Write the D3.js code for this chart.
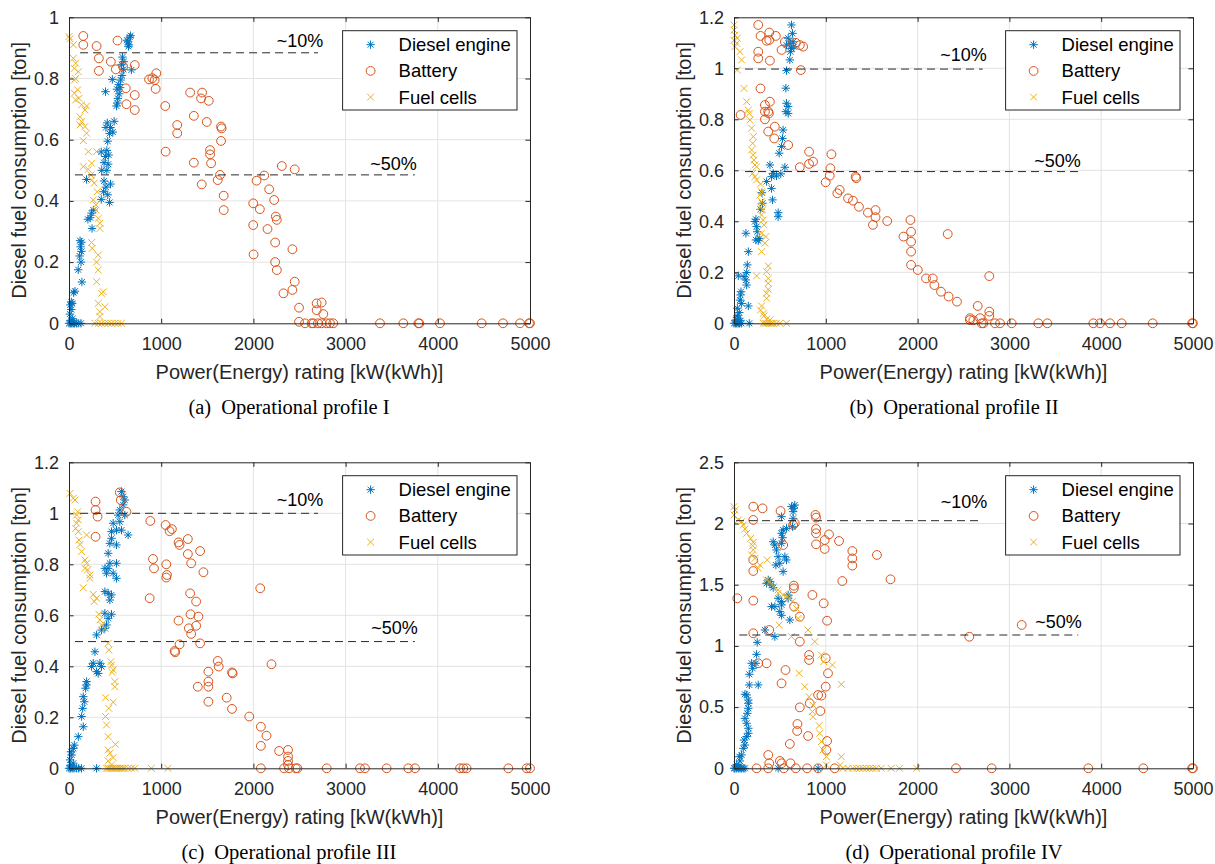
<!DOCTYPE html>
<html><head><meta charset="utf-8">
<script src="https://cdn.jsdelivr.net/npm/d3@7"></script>
<style>body{margin:0;background:#fff}svg{display:block}</style>
</head><body>
<script>
// ---------- DATA ----------
const xTicks = [0,1000,2000,3000,4000,5000];
const yTicksA = [0,0.2,0.4,0.6,0.8,1];
const yTicksB = [0,0.2,0.4,0.6,0.8,1,1.2];
const yTicksC = [0,0.2,0.4,0.6,0.8,1,1.2];
const yTicksD = [0,0.5,1,1.5,2,2.5];
const seriesNames = ["Diesel engine","Battery","Fuel cells"];
const xLabel = "Power(Energy) rating [kW(kWh)]";
const yLabel = "Diesel fuel consumption [ton]";
const captions = [["(a)","Operational profile I"],["(b)","Operational profile II"],["(c)","Operational profile III"],["(d)","Operational profile IV"]];

const dieselA = [[0,0],[15,0],[30,0],[45,0],[60,0],[80,0],[100,0],[130,0],[20,0.01],[40,0.015],[10,0.03],[25,0.045],[15,0.06],[35,0.065],[25,0.07],[50,0.1],[65,0.105],[140,0.135],[100,0.175],[130,0.2],[115,0.22],[135,0.235],[125,0.25],[135,0.265],[120,0.27],
[250,0.31],[205,0.34],[230,0.345],[245,0.36],[265,0.37],[190,0.47],
[350,0.405],[440,0.395],[420,0.42],[375,0.43],[400,0.445],[450,0.455],[380,0.465],[355,0.5],[410,0.5],[425,0.52],[380,0.525],[395,0.545],[350,0.56],[430,0.55],[410,0.565],
[420,0.595],[440,0.62],[475,0.625],[400,0.64],[450,0.64],[415,0.655],[490,0.66],[396,0.757],[470,0.797],
[515,0.71],[525,0.72],[530,0.735],[545,0.75],[520,0.765],[555,0.77],[540,0.78],[560,0.795],[575,0.81],[590,0.83],[570,0.845],[595,0.855],[580,0.87],[677,0.828],[640,0.92],[660,0.935],[650,0.91],[630,0.925],[668,0.94],[645,0.905]];
const batteryA = [[155,0.939],[155,0.91],[299,0.906],[526,0.924],[324,0.866],[454,0.855],[324,0.825],[508,0.83],[587,0.839],[713,0.844],[616,0.768],[713,0.746],[623,0.716],[713,0.697],
[868,0.797],[904,0.801],[947,0.817],[929,0.795],[940,0.766],[1044,0.71],[1048,0.561],[1174,0.648],[1174,0.621],
[1314,0.754],[1444,0.754],[1433,0.735],[1516,0.727],[1354,0.678],[1494,0.658],[1649,0.643],[1656,0.637],[1649,0.596],[1354,0.525],[1530,0.566],[1530,0.552],[1541,0.523],[1440,0.454],[1638,0.485],[1613,0.468],[1678,0.417],[1678,0.37],
[1998,0.392],[2034,0.466],[2117,0.483],[2070,0.373],[1998,0.321],[2171,0.438],[2225,0.403],[2153,0.308],[2243,0.349],[2254,0.338],[2002,0.225],[2236,0.264],[2236,0.2],[2254,0.174],[2423,0.242],[2448,0.136],[2423,0.109],[2326,0.098],[2495,0.051],[2495,0.005],[2308,0.514],[2448,0.503],
[2686,0.065],[2740,0.068],[2686,0.043],[2758,0.03],[2560,0],[2632,0],[2650,0],[2700,0],[2740,0],[2794,0],[2830,0],[2866,0],
[3373,0],[3626,0],[3789,0],[3800,0],[4024,0],[4476,0],[4707,0],[4892,0],[4990,0],[5000,0]];
const fuelA = [[0,0.937],[10,0.93],[47,0.91],[47,0.866],[72,0.85],[58,0.833],[101,0.822],[72,0.8],[58,0.795],[94,0.763],[58,0.752],[108,0.735],[72,0.73],[137,0.714],[191,0.71],[173,0.697],[119,0.675],[137,0.659],[119,0.648],[173,0.643],[191,0.621],[155,0.597],
[209,0.561],[299,0.561],[245,0.523],[155,0.512],[209,0.503],[238,0.485],[245,0.468],[274,0.458],[306,0.43],[263,0.403],[292,0.387],[292,0.37],[317,0.343],[335,0.327],[335,0.31],
[245,0.264],[252,0.245],[317,0.223],[299,0.2],[317,0.174],[299,0.136],[371,0.103],[353,0.098],[317,0.065],[389,0.054],[335,0.038],[335,0.022],
[281,0],[317,0],[353,0],[389,0],[425,0],[461,0],[497,0],[533,0],[569,0]];

const dieselB = [[0,0],[15,0],[30,0],[45,0],[60,0],[80,0],[166,0],[20,0.013],[47,0.02],[72,0.01],[36,0.029],[58,0.042],[36,0.059],[83,0.078],[156,0.068],[65,0.091],[72,0.111],[76,0.124],[138,0.15],[130,0.17],[109,0.183],[47,0.186],[138,0.199],[145,0.229],[156,0.281],[130,0.353],
[239,0.327],[253,0.359],[246,0.379],[228,0.399],[239,0.408],[275,0.333],[264,0.324],
[289,0.447],[311,0.471],[304,0.512],[355,0.556],[409,0.529],[420,0.484],[481,0.434],[481,0.418],
[391,0.621],[427,0.588],[409,0.575],[463,0.578],[510,0.586],[554,0.612],
[492,0.667],[517,0.693],[528,0.725],[535,0.758],[565,0.83],[590,0.823],[572,0.863],[590,0.85],[565,0.922],[572,0.991],
[608,1.033],[615,1.065],[608,1.098],[590,1.118],[637,1.137],[626,1.17],[644,1.104],[652,1.085],[572,1.091],[626,1.078]];
const batteryB = [[264,1.17],[289,1.127],[384,1.14],[384,1.111],[355,1.108],[456,1.127],[554,1.104],[518,1.072],[673,1.1],[717,1.091],[753,1.085],[264,1.065],[264,1.039],[391,1.03],[728,0.993],
[289,0.921],[337,0.856],[391,0.869],[337,0.83],[373,0.83],[380,0.823],[337,0.8],[445,0.771],[373,0.752],[438,0.725],[72,0.817],[590,0.699],
[717,0.612],[818,0.673],[818,0.625],[861,0.634],[1061,0.663],[1050,0.608],[1043,0.579],[999,0.553],[1151,0.523],[1126,0.51],[1325,0.575],[1332,0.569],[1242,0.49],[1296,0.481],[1361,0.457],[1459,0.434],[1542,0.444],[1542,0.416],[1513,0.386],[1669,0.401],
[1922,0.405],[1929,0.359],[1929,0.32],[1929,0.281],[1846,0.34],[1929,0.229],[2002,0.209],[2092,0.176],[2165,0.176],[2183,0.15],[2255,0.124],[2338,0.105],[2429,0.085],[2328,0.35],
[2570,0.013],[2781,0.185],[2655,0.068],[2781,0.046],[2781,0.029],[2680,0.02],[2607,0.012],[2571,0.02],
[2698,0],[2716,0],[2843,0],[2898,0],[3025,0],[3315,0],[3413,0],[3914,0],[3987,0],[4096,0],[4223,0],[4561,0],[4990,0],[5000,0]];
const fuelB = [[0,1.17],[0,1.15],[11,1.13],[0,1.11],[36,1.118],[29,1.098],[11,1.085],[65,1.065],[83,1.033],[36,0.993],
[109,0.921],[138,0.869],[156,0.836],[166,0.823],[174,0.797],[192,0.765],[210,0.732],[203,0.706],[192,0.68],[210,0.66],[217,0.64],[228,0.621],[246,0.614],[203,0.588],[228,0.575],[246,0.562],[289,0.546],[300,0.516],[282,0.503],[300,0.477],[289,0.457],[311,0.444],[300,0.425],[318,0.405],[326,0.386],[300,0.353],[347,0.34],[337,0.314],[300,0.281],[246,0.186],[373,0.225],[355,0.203],[373,0.176],[373,0.157],[373,0.133],[355,0.118],[355,0.098],[300,0.068],[289,0.052],[318,0.039],[326,0.029],[355,0.016],[391,0.013],
[318,0],[337,0],[355,0],[373,0],[391,0],[409,0],[427,0],[463,0],[500,0],[572,0]];

const dieselC = [[0,0],[15,0],[35,0],[55,0],[80,0],[105,0],[135,0],[299,0],[20,0.013],[47,0.02],[11,0.033],[29,0.052],[22,0.065],[47,0.078],[58,0.091],[101,0.124],[155,0.163],[137,0.203],[148,0.235],[166,0.261],[155,0.281],[180,0.314],[191,0.327],[191,0.34],
[245,0.399],[263,0.412],[299,0.379],[317,0.372],[281,0.457],[335,0.412],[353,0.399],
[299,0.523],[353,0.542],[389,0.549],[407,0.562],[425,0.588],[461,0.604],[389,0.608],
[443,0.66],[461,0.68],[425,0.686],[389,0.693],
[407,0.765],[389,0.784],[425,0.784],[479,0.765],[515,0.745],[443,0.804],[515,0.804],
[425,0.843],[443,0.882],[515,0.876],[461,0.902],[461,0.928],[515,0.934],[479,0.961],[551,0.967],[533,0.993],[605,0.993],[641,0.915],[569,0.934],
[551,1.013],[587,1.033],[587,1.065],[569,1.085],[605,1.052]];
const batteryC = [[288,1.046],[288,1.013],[310,0.987],[288,0.908],[551,1.082],[562,1.052],[623,1.006],
[882,0.97],[911,0.821],[922,0.784],[875,0.667],[1048,0.954],[1091,0.93],[1116,0.938],[1055,0.8],[1062,0.758],[1055,0.748],[1188,0.886],[1199,0.876],[1289,0.899],[1289,0.84],[1325,0.804],[1422,0.852],[1458,0.769],
[1314,0.686],[1379,0.654],[1318,0.604],[1404,0.595],[1188,0.579],[1300,0.549],[1379,0.559],[1325,0.527],[1422,0.49],[1199,0.486],[1145,0.46],[1152,0.455],
[1613,0.421],[1624,0.399],[1512,0.379],[1512,0.34],[1512,0.32],[1397,0.32],[1512,0.261],[1768,0.376],[1775,0.372],[1710,0.277],[1768,0.233],
[2074,0.706],[2196,0.408],[1955,0.203],[2081,0.163],[2142,0.128],[2081,0.088],[2279,0.068],[2376,0.072],[2376,0.046],[2376,0.029],[2376,0.013],[2081,0],[2333,0],[2387,0],[2459,0],[2477,0],
[2795,0],[3156,0],[3210,0],[3445,0],[3680,0],[3753,0],[4241,0],[4277,0],[4313,0],[4765,0],[4964,0],[5000,0]];
const fuelC = [[11,1.078],[47,1.059],[65,1.052],[94,1.006],[83,0.993],[101,0.974],[83,0.961],[72,0.941],[101,0.928],[191,0.915],[108,0.895],[119,0.878],[137,0.85],[173,0.817],[191,0.804],[173,0.784],[202,0.778],[227,0.758],[227,0.745],[155,0.708],
[263,0.682],[299,0.667],[274,0.654],[324,0.604],[335,0.582],[353,0.562],[392,0.549],[425,0.49],[432,0.464],[454,0.418],[461,0.405],[479,0.386],[468,0.376],[497,0.34],[497,0.32],[396,0.277],[479,0.259],[432,0.235],[396,0.203],[407,0.17],[425,0.124],[504,0.094],[425,0.072],[443,0.059],[479,0.042],[425,0.029],[461,0.013],
[407,0],[425,0],[443,0],[461,0],[479,0],[497,0],[515,0],[533,0],[551,0],[569,0],[587,0],[605,0],[641,0],[677,0],[713,0],[893,0],[1073,0]];

const dieselD = [[0,0],[11,0],[29,0],[47,0],[65,0],[83,0],[101,0],[119,0],[481,0],[916,0],[29,0.03],[47,0.015],[65,0.06],[58,0.095],[83,0.109],[101,0.163],[119,0.19],[109,0.231],[138,0.259],[156,0.286],[156,0.327],[138,0.368],[119,0.408],[145,0.449],[156,0.49],[156,0.531],[156,0.558],[138,0.599],[119,0.605],[167,0.681],[167,0.768],[203,0.817],[239,0.858],[246,0.931],[192,0.858],[253,1.029],[264,0.681],
[337,1.13],[445,1.076],
[373,1.539],[355,1.511],[409,1.498],[427,1.476],[391,1.525],
[481,1.389],[518,1.362],[445,1.321],[518,1.335],[499,1.28],[409,1.321],[590,1.416],[608,1.212],[590,1.389],[518,1.25],
[427,1.851],[445,1.824],[463,1.784],[481,1.729],[499,1.675],[456,1.661],[535,1.607],[554,1.729],[572,1.702],[518,1.838],[518,1.92],[535,1.947],[529,1.884],
[518,2.056],[572,1.96],[637,1.974],[644,2.042],[652,2.124],[626,2.138],[644,2.097],[662,2.151]];
const batteryD = [[210,2.138],[311,2.124],[210,2.029],[507,2.102],[662,2.002],[644,1.988],[536,1.824],[210,1.702],[210,1.612],[36,1.389],[210,1.37],
[887,2.07],[894,2.048],[894,1.955],[894,1.92],[894,1.83],[988,1.865],[1035,1.911],[988,1.792],[1144,1.857],[1289,1.775],[1289,1.715],[1289,1.656],[1557,1.743],[1180,1.53],[1705,1.544],
[652,1.492],[652,1.47],[655,1.321],[717,1.239],[854,1.416],[977,1.348],[1014,1.206],
[210,1.103],[384,1.13],[717,1.035],[818,0.926],[818,0.885],[264,0.858],[355,0.858],[561,0.803],[518,0.694],[999,0.899],[1024,0.776],[999,0.667],[916,0.599],[952,0.594],[941,0.468],[717,0.498],[825,0.531],[691,0.362],[688,0.305],[807,0.264],[608,0.199],
[373,0.109],[384,0.041],[500,0.06],[518,0.041],[615,0.041],[1014,0.223],[1006,0.15],
[246,0],[373,0],[543,0],[673,0],[796,0],[916,0],[1097,0],[2418,0],[2807,0],[3860,0],[4459,0],[4990,0],[5000,0],
[2563,1.075],[3134,1.171]];
const fuelD = [[0,2.138],[11,2.11],[0,2.07],[47,2.029],[83,2.015],[101,1.988],[119,1.955],[138,1.92],[181,1.879],[210,1.846],[203,1.819],[210,1.784],[192,1.743],[228,1.715],[282,1.661],[362,1.702],[264,1.634],
[355,1.539],[391,1.525],[427,1.484],[481,1.457],[481,1.43],[536,1.416],[572,1.402],[608,1.389],[637,1.362],[680,1.307],[699,1.225],[492,1.171],[626,1.076],[807,1.13],[880,1.035],
[710,0.776],[771,0.667],[818,0.585],[861,0.517],[854,0.463],[861,0.422],[927,0.349],[934,0.286],[952,0.218],[970,0.15],[1006,0.095],[1006,0.027],[952,0.926],[977,0.871],[1072,0.844],[1169,0.686],[1169,0.095],[1158,0.027],
[1187,0],[1242,0],[1296,0],[1332,0],[1368,0],[1404,0],[1441,0],[1477,0],[1513,0],[1549,0],[1604,0],[1712,0],[1803,0],[1991,0]];

// reference lines: [y, xStart, xEnd, labelRightX, labelBaselineY, label]
const refA = [[0.884,120,2700,2758,0.904,"~10%"],[0.485,65,3750,3771,0.501,"~50%"]];
const refB = [[0.997,120,2709,2753,1.03,"~10%"],[0.595,120,3751,3777,0.612,"~50%"]];
const refC = [[1.0,120,2700,2758,1.03,"~10%"],[0.497,65,3750,3782,0.5255,"~50%"]];
const refD = [[2.023,22,2700,2760,2.124,"~10%"],[1.089,58,3750,3788,1.144,"~50%"]];

// ---------- LAYOUT ----------
const panels = [
  {left:69, top:17.3, w:461, h:306, yMax:1, yTicks:yTicksA, d:dieselA, b:batteryA, f:fuelA, ref:refA, cap:captions[0]},
  {left:734, top:17.3, w:459, h:306, yMax:1.2, yTicks:yTicksB, d:dieselB, b:batteryB, f:fuelB, ref:refB, cap:captions[1]},
  {left:69, top:462.3, w:461, h:306, yMax:1.2, yTicks:yTicksC, d:dieselC, b:batteryC, f:fuelC, ref:refC, cap:captions[2]},
  {left:734, top:462.3, w:459, h:306, yMax:2.5, yTicks:yTicksD, d:dieselD, b:batteryD, f:fuelD, ref:refD, cap:captions[3]}
];
const COL = {d:'#0072BD', b:'#D95319', f:'#EDB120'};
const AX = '#262626';
const sans = "'Liberation Sans', Arial, Helvetica, sans-serif";
const serif = "'Liberation Serif', 'Times New Roman', serif";

const svg = d3.select('body').append('svg').attr('width',1215).attr('height',864);
svg.append('rect').attr('width',1215).attr('height',864).attr('fill','#fff');

const astPath = s => { const q = s*0.7071; return `M${-s},0L${s},0M0,${-s}L0,${s}M${-q},${-q}L${q},${q}M${-q},${q}L${q},${-q}`; };
const xPath = s => `M${-s},${-s}L${s},${s}M${-s},${s}L${s},${-s}`;
const fmt = v => String(+v.toFixed(2));

function drawMarker(sel, kind) {
  if (kind === 'd') sel.append('path').attr('d', astPath(4.2)).attr('stroke', COL.d).attr('stroke-width',1).attr('fill','none');
  else if (kind === 'b') sel.append('circle').attr('r',4.4).attr('stroke', COL.b).attr('stroke-width',1).attr('fill','none');
  else sel.append('path').attr('d', xPath(3.4)).attr('stroke', COL.f).attr('stroke-width',1).attr('fill','none');
}

panels.forEach(p => {
  const g = svg.append('g').attr('transform', `translate(${p.left},${p.top})`);
  const x = d3.scaleLinear().domain([0,5000]).range([0,p.w]);
  const y = d3.scaleLinear().domain([0,p.yMax]).range([p.h,0]);

  // grid
  const grid = g.append('g').attr('stroke','#e3e3e3').attr('stroke-width',1);
  grid.selectAll('.gx').data(xTicks.slice(1,-1)).join('line')
    .attr('x1',d=>x(d)).attr('x2',d=>x(d)).attr('y1',0).attr('y2',p.h);
  grid.selectAll('.gy').data(p.yTicks.slice(1,-1)).join('line')
    .attr('y1',d=>y(d)).attr('y2',d=>y(d)).attr('x1',0).attr('x2',p.w);

  // series
  [['d',p.d],['b',p.b],['f',p.f]].forEach(([k,arr]) => {
    const sg = g.append('g');
    sg.selectAll('g').data(arr).join('g')
      .attr('transform', d => `translate(${x(d[0])},${y(d[1])})`)
      .each(function(){ drawMarker(d3.select(this), k); });
  });

  // reference lines
  p.ref.forEach(r => {
    g.append('line').attr('x1',x(r[1])).attr('x2',x(r[2])).attr('y1',y(r[0])).attr('y2',y(r[0]))
      .attr('stroke','#111').attr('stroke-width',0.9).attr('stroke-dasharray','8,5');
    g.append('text').attr('x',x(r[3])).attr('y',y(r[4])).attr('text-anchor','end')
      .attr('font-family',sans).attr('font-size',18).attr('fill','#000').text(r[5]);
  });

  // axes
  const tk = 4.6;
  const xb = g.append('g').attr('transform',`translate(0,${p.h})`)
    .call(d3.axisBottom(x).tickValues(xTicks).tickSizeInner(-tk).tickSizeOuter(0).tickPadding(14).tickFormat(fmt));
  const xt = g.append('g').call(d3.axisTop(x).tickValues(xTicks).tickSizeInner(-tk).tickSizeOuter(0).tickFormat(''));
  const yl = g.append('g').call(d3.axisLeft(y).tickValues(p.yTicks).tickSizeInner(-tk).tickSizeOuter(0).tickPadding(10).tickFormat(fmt));
  const yr = g.append('g').attr('transform',`translate(${p.w},0)`)
    .call(d3.axisRight(y).tickValues(p.yTicks).tickSizeInner(-tk).tickSizeOuter(0).tickFormat(''));
  [xb,xt,yl,yr].forEach(a => {
    a.selectAll('path').attr('stroke',AX).attr('stroke-width',1);
    a.selectAll('line').attr('stroke',AX).attr('stroke-width',1);
    a.selectAll('text').attr('fill',AX).attr('font-family',sans).attr('font-size',18);
  });

  // axis labels
  g.append('text').attr('x',p.w/2).attr('y',p.h+56).attr('text-anchor','middle')
    .attr('font-family',sans).attr('font-size',20).attr('fill',AX).text(xLabel);
  g.append('text').attr('transform',`translate(-43,${p.h/2}) rotate(-90)`).attr('text-anchor','middle')
    .attr('font-family',sans).attr('font-size',20).attr('fill',AX).text(yLabel);

  // legend
  const lw = 174.4, lh = 79.3;
  const lg = g.append('g').attr('transform',`translate(${p.w-13-lw},13.4)`);
  lg.append('rect').attr('width',lw).attr('height',lh).attr('fill','#fff').attr('stroke',AX).attr('stroke-width',1);
  ['d','b','f'].forEach((k,i) => {
    const row = lg.append('g').attr('transform',`translate(28,${14+i*26.2})`);
    drawMarker(row, k);
    lg.append('text').attr('x',56).attr('y',14+i*26.2).attr('dy','0.35em')
      .attr('font-family',sans).attr('font-size',18.5).attr('fill','#000').text(seriesNames[i]);
  });

  // caption
  const ct = svg.append('text').attr('x',p.left+220).attr('y',p.top+396.5).attr('text-anchor','middle')
    .attr('font-family',serif).attr('font-size',20.5).attr('fill','#000');
  ct.append('tspan').text(p.cap[0]);
  ct.append('tspan').attr('dx',10).text(p.cap[1]);
});
</script>
</body></html>
